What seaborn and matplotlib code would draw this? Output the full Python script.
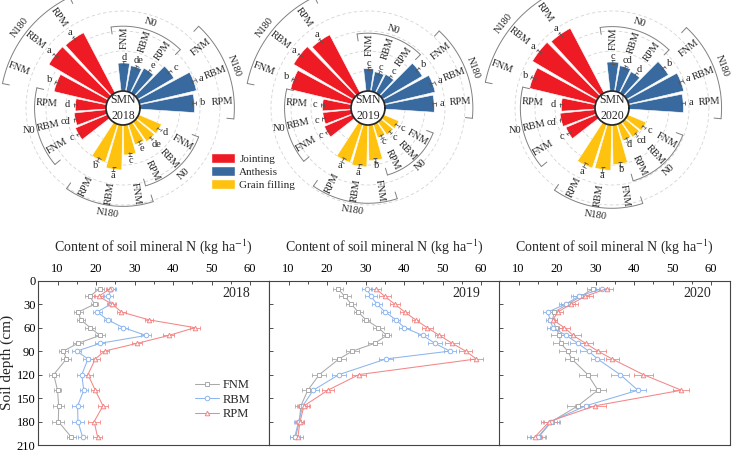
import numpy as np
import pandas as pd
import matplotlib
matplotlib.use("Agg")
import matplotlib.pyplot as plt
import seaborn as sns
from matplotlib.patches import Patch
from matplotlib.ticker import MultipleLocator

# ─────────────────────────────────────────
# DATA
# ─────────────────────────────────────────

years = [2018, 2019, 2020]
treatments = ["FNM", "RBM", "RPM"]
n_levels = ["N0", "N180"]
stages = ["Jointing", "Anthesis", "Grain filling"]

# soil mineral N per stage, bar order: N0 FNM/RBM/RPM, N180 FNM/RBM/RPM
smn_jointing = {2018: [34.6, 32.0, 30.7, 53.9, 69.0, 68.0],
                2019: [30.3, 28.4, 28.5, 62.6, 69.3, 65.6],
                2020: [33.0, 35.2, 33.7, 67.7, 75.3, 73.0]}
smn_anthesis = {2018: [28.0, 26.0, 28.0, 42.0, 58.5, 54.5],
                2019: [22.4, 19.8, 21.0, 46.0, 52.0, 49.3],
                2020: [29.0, 26.0, 24.0, 48.4, 56.7, 54.4]}
smn_grain = {2018: [24.7, 24.0, 21.7, 30.0, 45.0, 40.0],
             2019: [16.6, 16.0, 14.3, 35.7, 41.9, 40.3],
             2020: [19.9, 18.8, 17.4, 39.5, 45.3, 46.2]}
bar_err = [1.8, 1.6, 1.7, 2.0, 2.2, 2.1]

letters_jointing = {2018: ["c", "cd", "d", "b", "a", "a"],
                    2019: ["c", "c", "c", "b", "a", "a"],
                    2020: ["c", "cd", "d", "b", "a", "a"]}
letters_anthesis = {2018: ["d", "de", "e", "c", "a", "b"],
                    2019: ["c", "c", "c", "b", "a", "a"],
                    2020: ["c", "cd", "d", "b", "a", "a"]}
letters_grain = {2018: ["d", "de", "e", "c", "a", "b"],
                 2019: ["c", "c", "c", "b", "a", "a"],
                 2020: ["c", "cd", "d", "b", "a", "a"]}

# soil profile of mineral N
depth = [10, 20, 30, 40, 50, 60, 70, 80, 90, 100, 120, 140, 160, 180, 200]

fnm_2018 = [20.9, 18.4, 19.6, 15.4, 16.0, 18.5, 21.0, 15.3, 11.5, 12.3, 9.0, 10.0, 10.3, 10.2, 13.6]
rbm_2018 = [24.0, 23.2, 23.8, 20.3, 23.0, 27.1, 33.0, 21.1, 15.0, 17.9, 16.3, 16.8, 15.2, 15.3, 16.5]
rpm_2018 = [23.7, 20.7, 24.2, 26.6, 33.7, 45.7, 38.9, 30.7, 22.2, 19.8, 17.9, 19.8, 21.8, 19.5, 20.4]

fnm_2019 = [22.8, 24.6, 26.3, 28.1, 30.1, 33.3, 35.5, 32.4, 26.6, 23.1, 18.0, 15.0, 13.2, 12.8, 11.8]
rbm_2019 = [30.3, 31.4, 33.0, 35.1, 37.9, 40.1, 44.9, 48.0, 51.9, 35.3, 23.1, 16.4, 13.7, 12.6, 11.6]
rpm_2019 = [32.6, 35.0, 37.6, 40.2, 43.0, 46.0, 49.2, 52.5, 56.0, 58.8, 28.3, 20.2, 14.0, 13.0, 12.4]

fnm_2020 = [29.4, 26.2, 22.8, 19.3, 18.8, 19.7, 20.6, 20.9, 22.8, 23.8, 28.0, 30.6, 25.4, 18.6, 15.2]
rbm_2020 = [31.8, 25.6, 22.2, 17.6, 18.2, 18.9, 22.4, 25.4, 28.2, 30.5, 36.4, 41.0, 27.4, 18.4, 15.0]
rpm_2020 = [33.0, 27.3, 23.6, 20.2, 18.9, 21.9, 24.2, 27.4, 30.6, 34.3, 42.4, 52.3, 29.8, 18.0, 14.2]

err_2018 = [1.2, 1.2, 1.0, 1.2, 1.0, 1.3, 1.4, 1.3, 1.2, 1.3, 1.3, 1.0, 1.4, 1.6, 1.2]
err_2019 = [1.3, 1.6, 1.3, 1.2, 1.0, 1.4, 1.2, 1.8, 1.6, 1.7, 1.8, 1.5, 1.5, 1.1, 1.3]
err_2020 = [1.6, 2.0, 1.8, 1.3, 1.2, 1.5, 2.1, 2.0, 2.2, 1.7, 2.4, 2.1, 2.8, 2.1, 1.9]

profiles = {2018: (fnm_2018, rbm_2018, rpm_2018, err_2018),
            2019: (fnm_2019, rbm_2019, rpm_2019, err_2019),
            2020: (fnm_2020, rbm_2020, rpm_2020, err_2020)}

# ─────────────────────────────────────────
# STYLE
# ─────────────────────────────────────────

sns.set_theme(style="ticks")
plt.rcParams["font.family"] = ["Liberation Serif", "DejaVu Serif"]
plt.rcParams["mathtext.fontset"] = "stix"

stage_colors = {"Jointing": "#ee1b24", "Anthesis": "#386a9f", "Grain filling": "#fec20f"}
line_colors = {"FNM": "#a9a9a9", "RBM": "#8db5ee", "RPM": "#f48686"}
line_markers = {"FNM": "s", "RBM": "o", "RPM": "^"}

W, H = 733, 451
fig = plt.figure(figsize=(W / 100, H / 100), dpi=100)

# ─────────────────────────────────────────
# POLAR BARS
# ─────────────────────────────────────────

SLOT = np.deg2rad(17.05)
START = np.deg2rad(89)
HOLE = 17
RMAX = 100
first_slot = {"Anthesis": 0, "Grain filling": 7, "Jointing": 14}
stage_data = {"Jointing": (smn_jointing, letters_jointing),
              "Anthesis": (smn_anthesis, letters_anthesis),
              "Grain filling": (smn_grain, letters_grain)}


def radial_rot(t):
    deg = np.rad2deg(t) % 360
    if deg > 270:
        return deg - 360
    if deg > 90:
        return deg - 180
    return deg


def tangential_rot(t):
    rot = (np.rad2deg(t) - 90) % 360
    if rot > 180:
        rot -= 360
    if rot > 90:
        rot -= 180
    elif rot < -90:
        rot += 180
    if abs(rot) > 75:
        rot = 0
    return rot


def draw_polar(ax, year):
    ax.set_rorigin(-HOLE)
    ax.set_ylim(0, RMAX)
    ax.set_xticks([])
    ax.set_yticks([20, 40, 60, 80])
    ax.set_yticklabels([])
    ax.yaxis.grid(True, ls=(0, (4, 3)), color="#d4d4d4", lw=0.6)
    ax.xaxis.grid(False)
    for sp in ax.spines.values():
        sp.set_visible(False)
    ax.patch.set_visible(False)

    for stage in stages:
        vals = np.array(stage_data[stage][0][year])
        lets = stage_data[stage][1][year]
        theta = START - (first_slot[stage] + np.arange(6)) * SLOT
        ax.bar(theta, vals, width=SLOT * 0.87, color=stage_colors[stage],
               edgecolor="white", lw=0.4, zorder=2)
        ax.errorbar(theta, vals, yerr=bar_err, fmt="none", ecolor="#555555",
                    elinewidth=0.6, capsize=1.2, capthick=0.6, zorder=3)
        outer = []
        for t, v, e, l in zip(theta, vals, bar_err, lets):
            half_w = 2.5 * len(l) * abs(np.cos(t))
            ax.text(t, v + e + 3.5 + half_w, l, fontsize=7.5,
                    ha="center", va="center")
            outer.append(v + e + 3.5 + 2 * half_w + 7 * abs(np.sin(t)))
        outer = np.array(outer)
        for g, lvl in enumerate(n_levels):
            th = theta[3 * g:3 * g + 3]
            r_lab = outer[3 * g:3 * g + 3].max() + 11
            for t, name in zip(th, treatments):
                ax.text(t, r_lab, name, fontsize=7.5, ha="center", va="center",
                        rotation=radial_rot(t), rotation_mode="anchor")
            r_arc = r_lab + 12
            arc = np.linspace(th[0] + 0.55 * SLOT, th[-1] - 0.55 * SLOT, 60)
            ax.plot(arc, np.full_like(arc, r_arc), color="#808080", lw=0.7, clip_on=False)
            for te in (arc[0], arc[-1]):
                ax.plot([te, te], [r_arc - 7, r_arc], color="#808080", lw=0.7, clip_on=False)
            tm = th.mean()
            ax.text(tm, r_arc + 8, lvl, fontsize=7.5, ha="center", va="center",
                    rotation=tangential_rot(tm), rotation_mode="anchor")

    ax.text(0.5, 0.5, f"SMN\n{year}", transform=ax.transAxes, fontsize=8.5,
            ha="center", va="center", linespacing=1.35)


polar_cx = [123, 368, 612]
polar_cy = 108
half = HOLE + RMAX
for cx, year in zip(polar_cx, years):
    pax = fig.add_axes([(cx - half) / W, (H - polar_cy - half) / H, 2 * half / W, 2 * half / H],
                       projection="polar")
    draw_polar(pax, year)

handles = [Patch(facecolor=stage_colors[s], label=s) for s in stages]
fig.legend(handles=handles, loc="upper left", bbox_to_anchor=(211 / W, 1 - 153 / H),
           frameon=False, fontsize=8, handlelength=2.2, handleheight=1.0,
           handletextpad=0.35, labelspacing=0.2, borderpad=0, borderaxespad=0)

# ─────────────────────────────────────────
# SOIL PROFILES
# ─────────────────────────────────────────

panel_left = [38.3, 269.3, 499.3]
for i, (x0, year) in enumerate(zip(panel_left, years)):
    ax = fig.add_axes([x0 / W, 6 / H, 231 / W, 164.3 / H])
    fnm, rbm, rpm, err = profiles[year]
    df = pd.DataFrame({"depth": depth * 3, "smn": fnm + rbm + rpm,
                       "treatment": np.repeat(treatments, len(depth))})
    sns.lineplot(data=df, x="smn", y="depth", hue="treatment", style="treatment",
                 palette=line_colors, markers=line_markers, dashes=False, orient="y",
                 errorbar=None, legend=False, lw=0.75, markersize=3.3, ax=ax)
    series_lines = list(ax.lines)
    for line in series_lines:
        c = line.get_color()
        line.set_markerfacecolor("white")
        line.set_markeredgecolor(c)
        line.set_markeredgewidth(0.7)
    for name, vals in zip(treatments, (fnm, rbm, rpm)):
        ax.errorbar(vals, depth, xerr=err, fmt="none", ecolor=line_colors[name],
                    elinewidth=0.6, capsize=1.5, capthick=0.6, zorder=1)

    ax.set_xlim(5, 65)
    ax.set_ylim(210, 0)
    ax.xaxis.set_ticks_position("top")
    ax.xaxis.set_label_position("top")
    ax.set_xticks(range(10, 61, 10))
    ax.xaxis.set_minor_locator(MultipleLocator(5))
    ax.set_yticks(range(0, 211, 30))
    ax.tick_params(which="both", direction="in", width=0.6, labelsize=9, pad=2,
                   colors="#333333", labelcolor="black")
    ax.tick_params(axis="x", pad=4)
    ax.tick_params(which="major", length=3)
    ax.tick_params(which="minor", length=2)
    ax.set_xlabel("Content of soil mineral N (kg ha$^{-1}$)", fontsize=10, labelpad=9)
    if i == 0:
        ax.set_ylabel("Soil depth (cm)", fontsize=11, labelpad=2)
    else:
        ax.set_ylabel("")
        ax.tick_params(labelleft=False)
    for sp in ax.spines.values():
        sp.set_color("#444444")
        sp.set_linewidth(0.8)
    ax.text(0.915, 0.92, str(year), transform=ax.transAxes, fontsize=10,
            ha="right", va="center")
    if i == 0:
        ax.legend(series_lines, treatments, loc="center left",
                  bbox_to_anchor=(0.68, 0.275), frameon=False, fontsize=9,
                  handlelength=1.9, handletextpad=0.25, labelspacing=0.2,
                  borderpad=0, borderaxespad=0)

fig.savefig("out.png", dpi=100)
